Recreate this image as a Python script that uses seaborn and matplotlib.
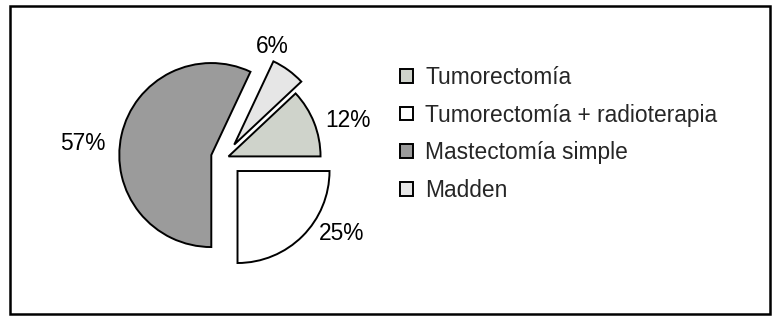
import numpy as np
import matplotlib
matplotlib.use("Agg")
import matplotlib.pyplot as plt
import seaborn as sns
from matplotlib.patches import Rectangle

# ---- data ----
categories = ["Tumorectomía", "Tumorectomía + radioterapia", "Mastectomía simple", "Madden"]
values = [12, 25, 57, 6]

# ---- style ----
colors = ["#cfd3cb", "#ffffff", "#9b9b9b", "#e6e6e6"]
explode = [0.047, 0.2, 0.147, 0.18]
label_angle = [16.7, -32.9, 174.3, 67.0]
label_r = [1.40, 1.52, 1.546, 1.32]

sns.set_theme(style="white")
plt.rcParams['font.family'] = ['Liberation Sans', 'DejaVu Sans']

W, H = 778, 325
fig = plt.figure(figsize=(W / 100, H / 100), dpi=100)
fig.patch.set_facecolor("white")

cx, cy, R = 224.5, 158.0, 92.0
ax = fig.add_axes([(cx - 2 * R) / W, (H - cy - 1.6 * R) / H, 4 * R / W, 3.2 * R / H])

start = values[0] / sum(values) * 360
wedges, _ = ax.pie(values, colors=colors, explode=explode, startangle=start,
                   counterclock=False, radius=1,
                   wedgeprops=dict(edgecolor="black", linewidth=1.4))
ax.set_xlim(-2, 2)
ax.set_ylim(-1.6, 1.6)
ax.set_aspect("auto")
ax.axis("off")

fs = 16.4
for v, a, r in zip(values, label_angle, label_r):
    t = np.deg2rad(a)
    ax.text(r * np.cos(t), r * np.sin(t), f"{v}%", ha="center", va="center",
            fontsize=fs, color="black")

fig.legend(wedges, categories, loc="upper left",
           bbox_to_anchor=(400 / W, 1 - 66 / H), frameon=False, fontsize=fs,
           handlelength=0.55, handleheight=0.55, handletextpad=0.55,
           labelspacing=0.64, borderpad=0, borderaxespad=0)

fig.add_artist(Rectangle((10.3 / W, 1 - 313.8 / H), (769.7 - 10.3) / W, (313.8 - 5.8) / H,
                         transform=fig.transFigure, fill=False, lw=1.8, edgecolor="black"))

fig.savefig("out.png", dpi=100)
